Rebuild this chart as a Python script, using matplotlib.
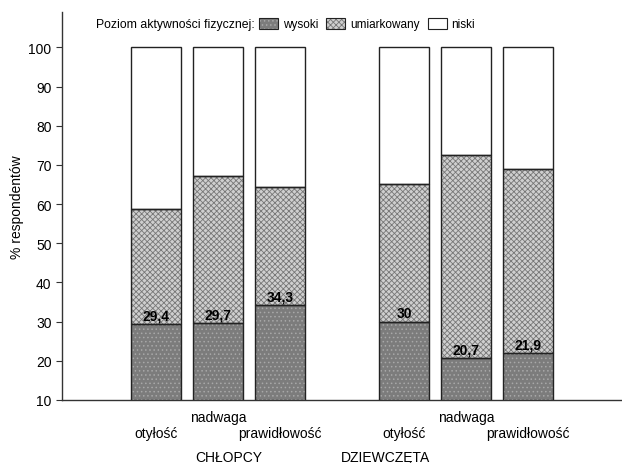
import matplotlib

matplotlib.use("AGG")
import matplotlib.pyplot as plt
from matplotlib.patches import Patch
from matplotlib.legend_handler import HandlerTuple

plt.rcParams["font.family"] = ["Liberation Sans", "DejaVu Sans"]
plt.rcParams["font.size"] = 10
plt.rcParams["hatch.linewidth"] = 0.6

# data
groups = ["CHŁOPCY", "DZIEWCZĘTA"]
categories = ["otyłość", "nadwaga", "prawidłowość"] * 2
x_pos = [0, 1, 2, 4, 5, 6]
wysoki = [29.4, 29.7, 34.3, 30.0, 20.7, 21.9]
umiarkowany = [29.3, 37.4, 30.0, 35.0, 51.8, 47.0]
niski = [100 - w - u for w, u in zip(wysoki, umiarkowany)]
value_labels = ["29,4", "29,7", "34,3", "30", "20,7", "21,9"]

fig = plt.figure(figsize=(6.22, 4.64), dpi=100)
ax = fig.add_axes([0.0997, 0.1358, 0.9003, 0.836])

width = 0.806
# fill with hatch (hatch colour = edgecolor), then black outline on top
styles = [
    ("wysoki", wysoki, "#7c7c7c", "....", "#a8a8a8"),
    ("umiarkowany", umiarkowany, "#cfcfcf", "xxxxxx", "#777777"),
    ("niski", niski, "white", "", "white"),
]
bottom = [0.0] * len(x_pos)
handles = []
for name, vals, fc, hatch, hc in styles:
    ax.bar(x_pos, vals, width, bottom=bottom, color=fc, hatch=hatch,
           edgecolor=hc, linewidth=0, zorder=2)
    ax.bar(x_pos, vals, width, bottom=bottom, fill=False,
           edgecolor="#222222", linewidth=1.0, zorder=3)
    handles.append((Patch(facecolor=fc, hatch=hatch, edgecolor=hc, linewidth=0),
                    Patch(fill=False, edgecolor="#222222", linewidth=0.8)))
    bottom = [b + v for b, v in zip(bottom, vals)]

# value labels of the "wysoki" segment
for x, w, lab in zip(x_pos, wysoki, value_labels):
    ax.annotate(lab, (x, w), xytext=(0, 1), textcoords="offset points",
                ha="center", va="bottom", fontweight="bold", fontsize=10, zorder=4)

ax.set_ylim(10, 109)
ax.set_xlim(-1.516, 7.516)
ax.set_yticks(range(10, 101, 10))
ax.set_xticks([])
ax.tick_params(axis="y", direction="out", length=4, width=0.8, color="#333333")
for s in ["top", "right"]:
    ax.spines[s].set_visible(False)
for s in ["left", "bottom"]:
    ax.spines[s].set_color("#333333")
    ax.spines[s].set_linewidth(1.0)
ax.set_ylabel("% respondentów", labelpad=3)

# category labels, staggered
for i, (x, cat) in enumerate(zip(x_pos, categories)):
    off = -12 if i % 3 == 1 else -24
    ax.annotate(cat, (x, 0), xycoords=("data", "axes fraction"),
                xytext=(0, off), textcoords="offset points", ha="center", va="center")

# group labels
group_x = [1.18, 3.7]
for gx, g in zip(group_x, groups):
    ax.annotate(g, (gx, 0), xycoords=("data", "axes fraction"),
                xytext=(0, -41), textcoords="offset points", ha="center", va="center")

# legend
fig.text(255 / 622, 1 - 25 / 464, "Poziom aktywności fizycznej:", ha="right", va="center",
         fontsize=8.8)
fig.legend(handles, [s[0] for s in styles], loc="center left",
           bbox_to_anchor=(259 / 622, 1 - 25 / 464), ncol=3, frameon=False,
           handler_map={tuple: HandlerTuple(ndivide=1, pad=0)}, fontsize=8.5,
           handlelength=1.6, handleheight=1.1, handletextpad=0.4,
           columnspacing=0.7, borderpad=0, borderaxespad=0)

fig.savefig("out.png", dpi=100)
